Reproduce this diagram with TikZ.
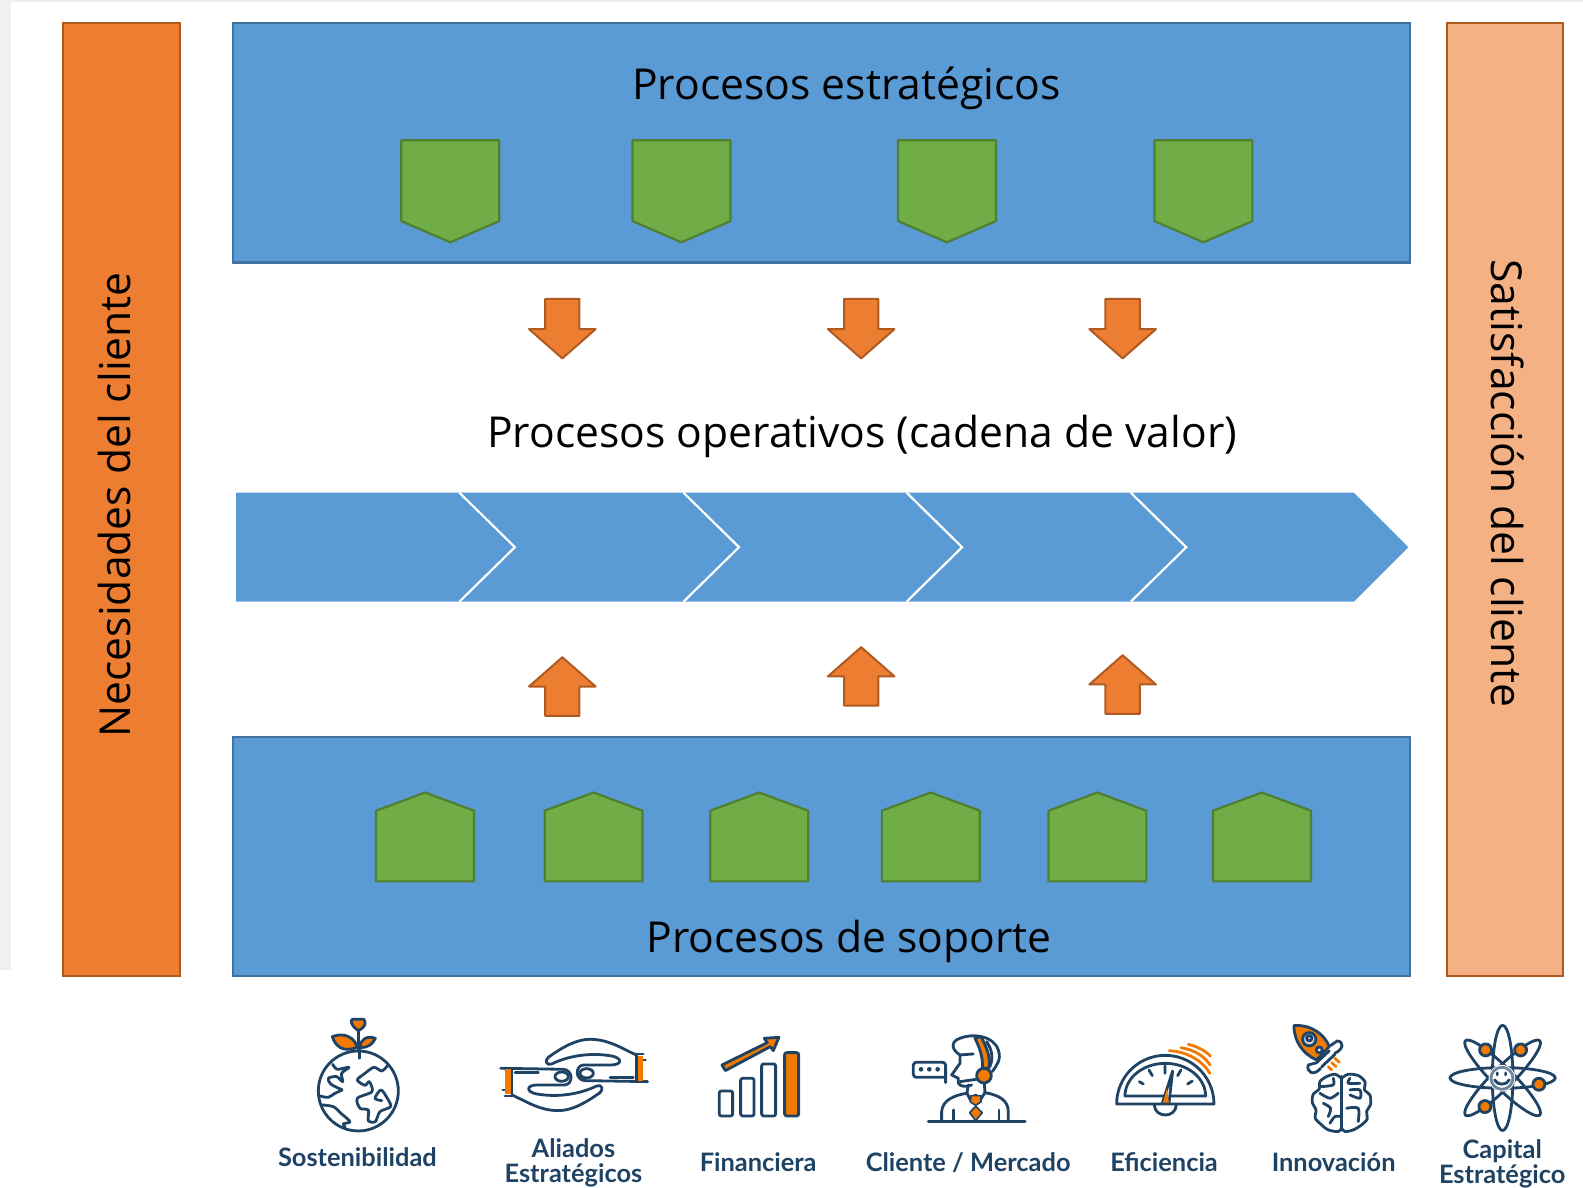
\documentclass[tikz,border=0pt]{standalone}
\usepackage{fontspec}
\setmainfont{Open Sans}
\newfontfamily\iconfont{Lato}
\usepackage{tikz}
\definecolor{bluefill}{HTML}{5B9BD5}
\definecolor{blueedge}{HTML}{41719C}
\definecolor{greenfill}{HTML}{70AD47}
\definecolor{greenedge}{HTML}{507E32}
\definecolor{orangefill}{HTML}{ED7D31}
\definecolor{orangeedge}{HTML}{AE5A21}
\definecolor{peachfill}{HTML}{F4B183}
\definecolor{stripgrey}{HTML}{F0F0F0}
\definecolor{iconnavy}{HTML}{1F4364}
\definecolor{iconorange}{HTML}{F27A00}
\tikzset{
  procbox/.style={draw=blueedge,fill=bluefill,line width=2.2pt},
  leftbar/.style={draw=orangeedge,fill=orangefill,line width=2.2pt},
  rightbar/.style={draw=orangeedge,fill=peachfill,line width=2.2pt},
  greentile/.style={draw=greenedge,fill=greenfill,line width=2.2pt,line join=round},
  flowarrow/.style={draw=orangeedge,fill=orangefill,line width=2pt,line join=round},
  bigtext/.style={font=\fontsize{42.6}{50}\selectfont,text=black,inner sep=0pt},
  icontext/.style={font=\iconfont\bfseries\fontsize{25.4}{25.4}\selectfont,text=iconnavy,align=center,inner sep=0pt},
  zoomed/.style={x=.3333pt,y=-.3333pt,draw=iconnavy,line width=2.8pt,line cap=round,line join=round},
  accent/.style={fill=iconorange},
  pics/shieldtile/.style={code={
    \draw[greentile] (-48.5,0) -- (48.5,0) -- (48.5,80) -- (0,101) -- (-48.5,80) -- cycle;
  }},
  pics/housetile/.style={code={
    \draw[greentile] (-48.5,88) -- (48.5,88) -- (48.5,18) -- (0,0) -- (-48.5,18) -- cycle;
  }},
  pics/downflow/.style={code={
    \draw[flowarrow] (-17,0) -- (17,0) -- (17,30) -- (33,30) -- (0,59) -- (-33,30) -- (-17,30) -- cycle;
  }},
  pics/upflow/.style={code={
    \draw[flowarrow] (-17,58) -- (17,58) -- (17,29) -- (33,29) -- (0,0) -- (-33,29) -- (-17,29) -- cycle;
  }},
  pics/globeicon/.style={code={
    \begin{scope}[zoomed]
    \draw (175,243) circle[radius=120];
    \draw plot[smooth] coordinates {(98,163) (112,178) (147,172) (125,190) (128,215) (110,200) (85,205) (92,222) (118,236) (126,240) (105,250) (85,262) (60,258)};
    \draw plot[smooth] coordinates {(65,285) (100,290) (125,312) (150,335) (130,342) (136,352)};
    \draw plot[smooth] coordinates {(262,168) (245,183) (222,172) (195,190) (172,210) (195,226) (208,215) (216,245) (172,265) (180,295) (205,300) (205,332) (226,335) (240,305) (272,290) (262,265) (243,240) (225,265) (245,272)};
    \draw (175,125) -- (175,60) (178,112) -- (178,145);
    \draw[accent] (172,112) .. controls (125,130) and (105,105) .. (97,80) .. controls (135,65) and (165,85) .. cycle;
    \draw[accent] (180,112) .. controls (205,115) and (220,100) .. (226,85) .. controls (200,75) and (180,90) .. cycle;
    \draw[accent] (175,62) .. controls (150,45) and (152,28) .. (158,28) -- (192,28) .. controls (198,40) and (198,50) .. cycle;
    \end{scope}
  }},
  pics/handsicon/.style={code={
    \begin{scope}[zoomed]
    \foreach \turn in {0,180} {
      \begin{scope}[rotate around={\turn:(237.5,135)}]
      \draw (160,82) .. controls (205,50) and (245,28) .. (285,28) .. controls (340,28) and (380,55) .. (424,75);
      \draw (160,82) .. controls (148,92) and (155,108) .. (170,102) .. controls (215,80) and (280,66) .. (350,78) .. controls (382,84) and (382,104) .. (350,105) -- (265,105) .. controls (240,108) and (240,150) .. (270,152) -- (458,155);
      \draw (275,130) ellipse[x radius=20,y radius=14];
      \draw (345,143) -- (415,143) (424,72) -- (445,72) (440,90) -- (452,90);
      \fill[iconorange,draw=none] (427,78) rectangle (445,152);
      \draw (424,72) -- (424,155);
      \end{scope}
    }
    \end{scope}
  }},
  pics/barsicon/.style={code={
    \begin{scope}[zoomed]
    \draw[rounded corners=2pt] (28,183) rectangle (68,258);
    \draw[rounded corners=2pt] (92,145) rectangle (132,258);
    \draw[rounded corners=2pt] (155,102) rectangle (197,258);
    \draw[accent,rounded corners=2pt] (224,68) rectangle (266,258);
    \draw[accent] (36,105) -- (172,38) -- (163,25) -- (207,22) -- (190,62) -- (181,50) -- (46,122) -- cycle;
    \end{scope}
  }},
  pics/personicon/.style={code={
    \begin{scope}[zoomed]
    \draw[line width=3.2pt] (70,275) -- (360,275);
    \draw (110,275) -- (110,245) .. controls (112,210) and (150,195) .. (186,190) -- (196,210) -- (212,195) -- (226,210) -- (240,188) .. controls (280,195) and (310,210) .. (310,245) -- (310,275);
    \draw (145,240) -- (145,275) (282,240) -- (282,275);
    \draw (190,165) -- (186,190) (238,158) -- (240,188);
    \draw (165,75) -- (165,100) -- (140,135) -- (160,145) -- (160,160) .. controls (165,170) and (185,172) .. (200,165);
    \draw (165,155) -- (215,148);
    \draw (165,75) .. controls (140,60) and (135,35) .. (165,25) .. controls (200,10) and (265,15) .. (280,60) .. controls (290,90) and (275,105) .. (262,125);
    \draw (165,75) -- (205,72) (245,35) .. controls (262,60) and (265,85) .. (255,110);
    \draw[accent] (210,25) -- (228,20) .. controls (250,60) and (256,85) .. (252,115) -- (232,115) .. controls (235,85) and (225,55) .. cycle;
    \draw[accent] (237,137) circle[radius=22];
    \draw[accent,line width=1.6pt] (198,197) -- (228,197) -- (228,216) -- (212,226) -- (196,216) -- cycle;
    \draw[accent,line width=1.6pt] (212,229) -- (232,248) -- (212,272) -- (194,248) -- cycle;
    \draw[rounded corners=3pt] (122,158) -- (122,97) -- (25,97) -- (25,142) -- (122,142);
    \foreach \dotx in {48,73,98} \fill[iconnavy] (\dotx,118) circle[radius=7];
    \end{scope}
  }},
  pics/gaugeicon/.style={code={
    \begin{scope}[zoomed]
    \draw plot[samples=40,domain=180:360] ({181+146*cos(\x)},{207+146*sin(\x)}) -- cycle;
    \draw plot[samples=40,domain=180:360] ({181+121*cos(\x)},{183+98*sin(\x)}) -- cycle;
    \draw (103,140) -- (115,147) (132,105) -- (142,122) (180,92) -- (180,115) (228,105) -- (218,122) (262,138) -- (248,147);
    \draw (148,210) .. controls (150,250) and (212,250) .. (214,210);
    \draw[fill=white] (203,108) -- (192,205) -- (172,205) -- cycle;
    \fill[iconorange,draw=none] (186,160) -- (192,203) -- (174,203) -- cycle;
    \draw[iconorange] (193,47) .. controls (250,50) and (295,80) .. (315,115);
    \draw[iconorange] (228,38) .. controls (270,45) and (300,65) .. (315,90);
    \draw[iconorange] (250,28) .. controls (280,35) and (305,50) .. (316,63);
    \end{scope}
  }},
  pics/rocketicon/.style={code={
    \begin{scope}[zoomed]
    \draw[accent] (42,32) .. controls (95,28) and (135,60) .. (148,95) -- (110,135) .. controls (70,118) and (42,80) .. cycle;
    \draw[fill=white!80!iconnavy] (88,73) circle[radius=20];
    \draw (88,70) circle[radius=8];
    \draw[fill=white] (118,105) circle[radius=9];
    \draw (152,92) -- (172,78) .. controls (192,80) and (192,102) .. (165,115);
    \draw (105,145) -- (85,150) .. controls (78,172) and (102,185) .. (122,160);
    \draw (148,108) -- (108,145) (165,118) -- (125,156);
    \draw[iconorange] (145,155) -- (155,165) (155,143) -- (168,155) (165,130) -- (178,142);
    \draw (185,185) -- (185,345);
    \draw plot[smooth] coordinates {(185,190) (165,178) (140,185) (120,200) (118,222) (100,238) (97,262) (108,285) (106,310) (125,330) (145,345) (175,350) (185,340)};
    \draw plot[smooth] coordinates {(185,190) (205,178) (235,182) (255,200) (254,225) (270,240) (272,268) (260,290) (262,312) (245,330) (220,345) (195,350) (185,340)};
    \draw plot[smooth] coordinates {(160,190) (160,210) (125,215)};
    \draw plot[smooth] coordinates {(120,235) (150,250) (175,235)};
    \draw plot[smooth] coordinates {(130,265) (152,280) (145,305)};
    \draw plot[smooth] coordinates {(150,325) (165,305) (185,305)};
    \draw plot[smooth] coordinates {(210,225) (240,225) (240,250) (210,240)};
    \draw plot[smooth] coordinates {(200,280) (235,280) (235,320)};
    \draw plot[smooth] coordinates {(210,190) (205,205) (240,205)};
    \end{scope}
  }},
  pics/atomicon/.style={code={
    \begin{scope}[zoomed]
    \foreach \tilt in {0,45,90,135} {
      \draw[rotate around={\tilt:(188,189)}] (188,189) ellipse[x radius=31,y radius=158];
    }
    \fill[white,draw=none] (186,190) circle[radius=40];
    \draw[white!35!iconnavy] (186,190) circle[radius=33];
    \fill[iconnavy] (172,177) ellipse[x radius=4,y radius=7];
    \fill[iconnavy] (197,177) ellipse[x radius=4,y radius=7];
    \draw (164,195) .. controls (172,212) and (200,212) .. (208,195);
    \foreach \dotx/\doty in {137/105,242/105,297/208,135/275} {
      \draw[accent] (\dotx,\doty) circle[radius=18];
    }
    \end{scope}
  }},
}

\begin{document}
\begin{tikzpicture}[x=1.0096pt,y=-1.0096pt]
\useasboundingbox (0,0) rectangle (1568,1176);
\fill[stripgrey] (0,0) rectangle (1568,2);
\fill[stripgrey] (0,0) rectangle (11,961);

\draw[leftbar] (62.5,23) rectangle (178,967);
\draw[rightbar] (1433,23) rectangle (1548,967);
\draw[procbox] (231,23) rectangle (1397,260);
\draw[procbox] (231,730) rectangle (1397,967);

\node[bigtext,rotate=90] (needs) at (113.5,500) {Necesidades del cliente};
\node[bigtext,rotate=-90] (satisfaction) at (1493,479) {Satisfacción del cliente};
\node[bigtext] (strategic) at (838.5,87) {Procesos estratégicos};
\node[bigtext] (operative) at (854,432) {Procesos operativos (cadena de valor)};
\node[bigtext] (support) at (841,933) {Procesos de soporte};

\foreach \xpos in {446,675,938,1192} {
  \pic at (\xpos,139) {shieldtile};
}
\foreach \xpos in {421,588,752,922,1087,1250} {
  \pic at (\xpos,785) {housetile};
}
\foreach \xpos in {557,853,1112} {
  \pic at (\xpos,296) {downflow};
}
\foreach \xpos/\ypos in {557/651,853/641,1112/649} {
  \pic at (\xpos,\ypos) {upflow};
}

\fill[bluefill] (234,488) -- (1341,488) -- (1395,542) -- (1341,596) -- (234,596) -- cycle;
\foreach \xpos in {455,677,898,1120} {
  \draw[white,line width=2.2pt] (\xpos,488) -- ++(55,54) -- ++(-55,54);
}

\pic at (297.15,1000.4) {globeicon};
\pic at (490.3,1020.2) {handsicon};
\pic at (703.25,1020.2) {barsicon};
\pic at (896.4,1020.2) {personicon};
\pic at (1094.5,1025.2) {gaugeicon};
\pic at (1267.8,1005.3) {rocketicon};
\pic at (1426.3,1005.3) {atomicon};

\node[icontext] (sustain) at (354,1146) {Sostenibilidad};
\node[icontext] (allies) at (568,1152) {Aliados\\Estratégicos};
\node[icontext] (finance) at (751,1151) {Financiera};
\node[icontext] (client) at (959,1152) {Cliente / Mercado};
\node[icontext] (efficiency) at (1153,1151) {Eficiencia};
\node[icontext] (innovation) at (1321,1151) {Innovación};
\node[icontext] (capital) at (1488,1153) {Capital\\Estratégico};
\end{tikzpicture}
\end{document}
